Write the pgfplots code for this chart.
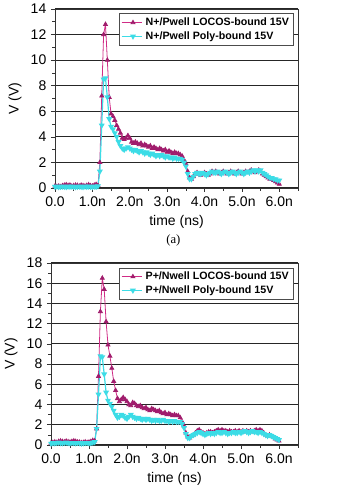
\documentclass[border=0pt]{standalone}
\usepackage{pgfplots}
\pgfplotsset{compat=1.18}
\usepackage{pgfplotstable}
\usepackage{fontspec}
\setmainfont{Liberation Sans}
\newfontfamily\capfont{Liberation Serif}
\definecolor{locos}{HTML}{D02C86}
\definecolor{locosmark}{HTML}{A01C6C}
\definecolor{poly}{HTML}{3CDCE6}

\pgfplotstableread{
t V
0.00 0.15
0.05 0.12
0.10 0.15
0.15 0.10
0.20 0.18
0.25 0.22
0.30 0.25
0.35 0.20
0.40 0.22
0.45 0.15
0.50 0.18
0.55 0.22
0.60 0.20
0.65 0.15
0.70 0.22
0.75 0.18
0.80 0.15
0.85 0.20
0.90 0.25
0.95 0.18
1.00 0.15
1.05 0.22
1.10 0.28
1.15 0.20
1.20 2.0
1.25 7.2
1.30 12.0
1.35 12.8
1.40 10.0
1.45 7.1
1.50 5.8
1.55 5.6
1.60 5.3
1.65 4.9
1.70 4.6
1.75 4.3
1.80 3.9
1.85 3.8
1.90 3.9
1.95 4.1
2.00 3.9
2.05 3.6
2.10 3.5
2.15 3.6
2.20 3.5
2.25 3.4
2.30 3.5
2.35 3.3
2.40 3.4
2.45 3.3
2.50 3.2
2.55 3.3
2.60 3.1
2.65 3.2
2.70 3.1
2.75 3.0
2.80 3.1
2.85 3.0
2.90 2.9
2.95 3.0
3.00 2.8
3.05 2.9
3.10 2.8
3.15 2.7
3.20 2.8
3.25 2.7
3.30 2.7
3.35 2.6
3.40 2.5
3.45 2.2
3.50 1.9
3.55 1.3
3.60 0.8
3.65 0.7
3.70 0.9
3.75 1.1
3.80 1.2
3.85 1.1
3.90 1.0
3.95 1.1
4.00 1.2
4.05 1.1
4.10 1.0
4.15 1.1
4.20 1.3
4.25 1.2
4.30 1.3
4.35 1.2
4.40 1.1
4.45 1.2
4.50 1.3
4.55 1.2
4.60 1.1
4.65 1.2
4.70 1.3
4.75 1.2
4.80 1.1
4.85 1.2
4.90 1.3
4.95 1.2
5.00 1.1
5.05 1.2
5.10 1.3
5.15 1.2
5.20 1.3
5.25 1.4
5.30 1.3
5.35 1.2
5.40 1.3
5.45 1.4
5.50 1.3
5.55 1.1
5.60 1.0
5.65 0.9
5.70 0.8
5.75 0.7
5.80 0.7
5.85 0.6
5.90 0.5
5.95 0.4
6.00 0.3
}\dataAlocos

\pgfplotstableread{
t V
0.00 0.10
0.05 0.12
0.10 0.08
0.15 0.10
0.20 0.12
0.25 0.10
0.30 0.08
0.35 0.12
0.40 0.10
0.45 0.12
0.50 0.10
0.55 0.08
0.60 0.10
0.65 0.12
0.70 0.10
0.75 0.08
0.80 0.12
0.85 0.10
0.90 0.12
0.95 0.10
1.00 0.08
1.05 0.12
1.10 0.10
1.15 0.15
1.20 1.3
1.25 4.9
1.30 8.5
1.35 8.6
1.40 7.1
1.45 5.4
1.50 4.8
1.55 4.6
1.60 4.3
1.65 4.0
1.70 3.6
1.75 3.3
1.80 3.1
1.85 3.0
1.90 3.1
1.95 3.2
2.00 3.1
2.05 3.0
2.10 2.9
2.15 3.0
2.20 2.9
2.25 2.8
2.30 2.9
2.35 2.8
2.40 2.7
2.45 2.8
2.50 2.7
2.55 2.6
2.60 2.7
2.65 2.6
2.70 2.5
2.75 2.6
2.80 2.5
2.85 2.6
2.90 2.5
2.95 2.4
3.00 2.5
3.05 2.4
3.10 2.4
3.15 2.3
3.20 2.4
3.25 2.3
3.30 2.3
3.35 2.3
3.40 2.2
3.45 2.0
3.50 1.7
3.55 1.1
3.60 0.7
3.65 0.7
3.70 0.9
3.75 1.1
3.80 1.2
3.85 1.1
3.90 1.1
3.95 1.2
4.00 1.1
4.05 1.0
4.10 1.1
4.15 1.2
4.20 1.3
4.25 1.2
4.30 1.2
4.35 1.3
4.40 1.2
4.45 1.1
4.50 1.2
4.55 1.3
4.60 1.2
4.65 1.1
4.70 1.2
4.75 1.3
4.80 1.2
4.85 1.1
4.90 1.2
4.95 1.3
5.00 1.2
5.05 1.1
5.10 1.2
5.15 1.3
5.20 1.2
5.25 1.3
5.30 1.4
5.35 1.3
5.40 1.4
5.45 1.3
5.50 1.4
5.55 1.2
5.60 1.1
5.65 1.0
5.70 0.9
5.75 0.8
5.80 0.8
5.85 0.7
5.90 0.7
5.95 0.6
6.00 0.6
}\dataApoly

\pgfplotstableread{
t V
0.00 0.20
0.05 0.25
0.10 0.30
0.15 0.25
0.20 0.35
0.25 0.40
0.30 0.35
0.35 0.30
0.40 0.38
0.45 0.32
0.50 0.28
0.55 0.35
0.60 0.40
0.65 0.35
0.70 0.30
0.75 0.28
0.80 0.22
0.85 0.25
0.90 0.30
0.95 0.25
1.00 0.28
1.05 0.35
1.10 0.45
1.15 0.40
1.20 1.6
1.25 6.8
1.30 13.2
1.35 16.5
1.40 15.4
1.45 12.2
1.50 9.9
1.55 8.8
1.60 7.6
1.65 6.3
1.70 5.4
1.75 4.6
1.80 4.3
1.85 4.5
1.90 4.7
1.95 4.5
2.00 4.3
2.05 4.0
2.10 3.9
2.15 4.2
2.20 4.1
2.25 3.9
2.30 3.8
2.35 3.9
2.40 3.7
2.45 3.6
2.50 3.7
2.55 3.5
2.60 3.4
2.65 3.6
2.70 3.5
2.75 3.4
2.80 3.3
2.85 3.4
2.90 3.2
2.95 3.1
3.00 3.2
3.05 3.0
3.10 3.1
3.15 3.0
3.20 2.9
3.25 3.0
3.30 2.9
3.35 2.9
3.40 2.7
3.45 2.3
3.50 1.9
3.55 1.2
3.60 0.8
3.65 0.7
3.70 0.9
3.75 1.0
3.80 1.2
3.85 1.4
3.90 1.5
3.95 1.3
4.00 1.2
4.05 1.1
4.10 1.2
4.15 1.3
4.20 1.3
4.25 1.2
4.30 1.3
4.35 1.4
4.40 1.5
4.45 1.4
4.50 1.5
4.55 1.4
4.60 1.4
4.65 1.3
4.70 1.4
4.75 1.3
4.80 1.3
4.85 1.4
4.90 1.3
4.95 1.4
5.00 1.3
5.05 1.4
5.10 1.3
5.15 1.4
5.20 1.3
5.25 1.4
5.30 1.3
5.35 1.4
5.40 1.5
5.45 1.4
5.50 1.5
5.55 1.4
5.60 1.2
5.65 1.0
5.70 0.9
5.75 1.0
5.80 0.9
5.85 0.8
5.90 0.6
5.95 0.5
6.00 0.4
}\dataBlocos

\pgfplotstableread{
t V
0.00 0.15
0.05 0.20
0.10 0.18
0.15 0.22
0.20 0.25
0.25 0.20
0.30 0.18
0.35 0.22
0.40 0.25
0.45 0.20
0.50 0.18
0.55 0.22
0.60 0.20
0.65 0.18
0.70 0.22
0.75 0.20
0.80 0.15
0.85 0.18
0.90 0.20
0.95 0.22
1.00 0.18
1.05 0.20
1.10 0.25
1.15 0.30
1.20 1.6
1.25 5.0
1.30 8.8
1.35 8.7
1.40 7.0
1.45 5.2
1.50 4.4
1.55 4.1
1.60 3.8
1.65 3.4
1.70 3.0
1.75 2.7
1.80 2.8
1.85 3.0
1.90 2.9
1.95 2.7
2.00 2.6
2.05 2.8
2.10 3.0
2.15 2.8
2.20 2.7
2.25 2.6
2.30 2.7
2.35 2.6
2.40 2.5
2.45 2.6
2.50 2.5
2.55 2.6
2.60 2.5
2.65 2.4
2.70 2.5
2.75 2.4
2.80 2.5
2.85 2.4
2.90 2.4
2.95 2.5
3.00 2.4
3.05 2.4
3.10 2.3
3.15 2.4
3.20 2.3
3.25 2.4
3.30 2.3
3.35 2.3
3.40 2.3
3.45 2.1
3.50 1.7
3.55 1.1
3.60 0.7
3.65 0.7
3.70 0.9
3.75 1.0
3.80 1.1
3.85 1.2
3.90 1.3
3.95 1.2
4.00 1.1
4.05 1.0
4.10 1.1
4.15 1.2
4.20 1.1
4.25 1.2
4.30 1.1
4.35 1.2
4.40 1.3
4.45 1.2
4.50 1.2
4.55 1.3
4.60 1.2
4.65 1.1
4.70 1.2
4.75 1.2
4.80 1.3
4.85 1.2
4.90 1.2
4.95 1.3
5.00 1.2
5.05 1.3
5.10 1.4
5.15 1.3
5.20 1.2
5.25 1.3
5.30 1.4
5.35 1.3
5.40 1.3
5.45 1.2
5.50 1.3
5.55 1.2
5.60 1.1
5.65 1.0
5.70 0.9
5.75 1.0
5.80 0.9
5.85 0.8
5.90 0.7
5.95 0.6
6.00 0.5
}\dataBpoly

\pgfplotsset{
  myaxis/.style={
    scale only axis,
    anchor=south west,
    xmin=0, xmax=6.5,
    ymin=0,
    xtick={0,1,2,3,4,5,6},
    minor xtick={0.5,1.5,2.5,3.5,4.5,5.5,6.5},
    xticklabels={0.0,1.0n,2.0n,3.0n,4.0n,5.0n,6.0n},
    xtick pos=bottom, ytick pos=left,
    tick align=outside,
    major tick length=3pt, minor tick length=2pt,
    minor y tick num=1,
    ymajorgrids,
    major grid style={black!85, line width=0.8pt},
    axis line style={black!80, line width=0.5pt},
    tick style={black!80, line width=0.5pt},
    /pgf/number format/assume math mode=true,
    tick label style={font=\fontsize{10.5}{12}\selectfont},
    label style={font=\fontsize{10.5}{12}\selectfont},
    xlabel={time (ns)},
    ylabel={V (V)},
    legend style={at={(0.98,0.975)}, anchor=north east, draw=black!70,
      font=\bfseries\fontsize{8}{9}\selectfont, inner sep=1pt,
      row sep=-1pt, cells={anchor=west}},
    legend image code/.code={
      \draw[mark repeat=2,mark phase=2,#1] plot coordinates {(0cm,0cm) (0.3cm,0cm) (0.55cm,0cm)};},
  },
  locosline/.style={color=locos, line width=0.6pt, mark=triangle*, mark size=1.7pt, mark options={fill=locosmark, draw=locosmark}},
  polyline/.style={color=poly, line width=0.9pt, mark=triangle*, mark size=1.7pt, mark options={fill=poly, draw=poly, rotate=180}},
}

\begin{document}
\begin{tikzpicture}
\useasboundingbox (0,0) rectangle (273pt,364.5pt);
\begin{axis}[myaxis, at={(41.25pt,223.5pt)}, width=182.25pt, height=134.25pt,
  ymax=14, ytick={0,2,4,6,8,10,12,14}]
\addplot[locosline] table[x=t,y=V] {\dataAlocos};
\addlegendentry{N+/Pwell LOCOS-bound 15V}
\addplot[polyline] table[x=t,y=V] {\dataApoly};
\addlegendentry{N+/Pwell Poly-bound 15V}
\end{axis}
\node[font=\capfont\fontsize{9.5}{11}\selectfont] at (130pt,184pt) {(a)};
\begin{axis}[myaxis, at={(38.25pt,30.75pt)}, width=185.25pt, height=136.5pt,
  ymax=18, ytick={0,2,4,6,8,10,12,14,16,18}]
\addplot[locosline] table[x=t,y=V] {\dataBlocos};
\addlegendentry{P+/Nwell LOCOS-bound 15V}
\addplot[polyline] table[x=t,y=V] {\dataBpoly};
\addlegendentry{P+/Nwell Poly-bound 15V}
\end{axis}
\end{tikzpicture}
\end{document}
